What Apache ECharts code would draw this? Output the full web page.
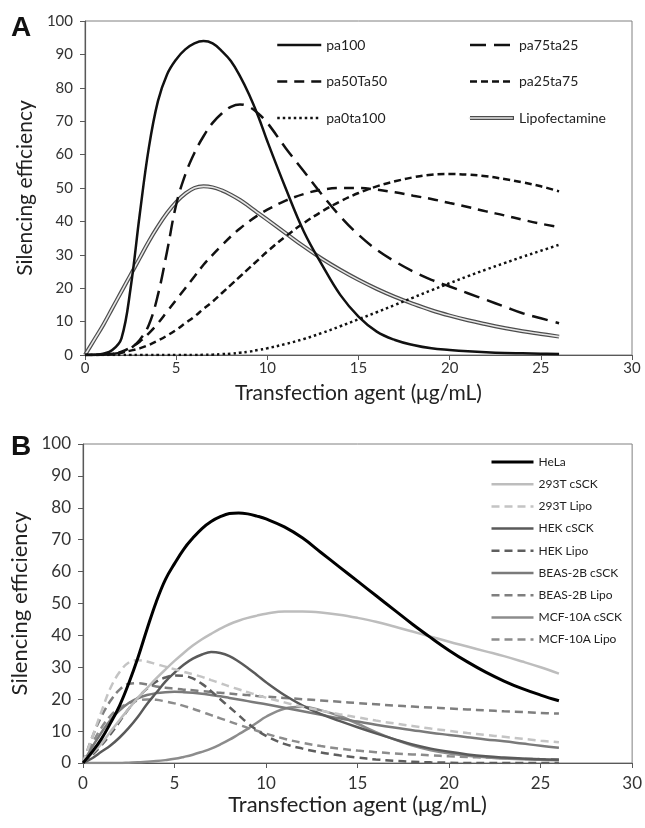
<!DOCTYPE html>
<html>
<head>
<meta charset="UTF-8">
<title>Silencing efficiency</title>
<script src="https://cdn.jsdelivr.net/npm/echarts@6/dist/echarts.min.js"></script>
<style>
  body { margin: 0; background: #fff; }
  #chart { width: 645px; height: 828px; }
</style>
</head>
<body>
<div id="chart"></div>
<script>
// x positions shared by every curve (µg/mL)
const xs = [0, 0.5, 1, 1.5, 2, 2.5, 3, 3.5, 4, 4.5, 5, 5.5, 6, 6.5, 7, 7.5, 8, 8.5, 9, 9.5, 10, 11, 12, 13, 14, 15, 16, 17, 18, 19, 20, 21, 22, 23, 24, 25, 26];

// panel A
const pa100 = [0, 0.1, 0.4, 1.5, 5, 20, 42, 62, 76, 84, 88.5, 91.5, 93.3, 94, 93.3, 91, 88, 83.5, 78, 71.5, 64, 50, 37, 27, 18, 11.5, 7, 4.5, 3, 2, 1.5, 1.1, 0.8, 0.6, 0.5, 0.4, 0.3];
const pa75ta25 = [0, 0, 0.1, 0.3, 0.8, 2, 4.5, 9, 18, 31, 45, 54, 60.5, 65.5, 69.5, 72.3, 74.3, 75, 74.3, 72.3, 69.5, 62, 55, 48, 41.5, 36, 31.5, 28, 25, 22.5, 20.5, 18.5, 16.5, 14.5, 12.5, 11, 9.5];
const pa50Ta50 = [0, 0, 0.1, 0.4, 1, 2.3, 4, 6.5, 9.5, 13, 16.5, 20, 23.5, 27, 30, 32.8, 35.5, 37.9, 40, 41.9, 43.5, 46.2, 48.2, 49.5, 50, 50, 49.5, 48.7, 47.7, 46.7, 45.5, 44.3, 43, 41.8, 40.5, 39.3, 38.3];
const pa25ta75 = [0, 0, 0.1, 0.3, 0.7, 1.3, 2, 3, 4.3, 5.8, 7.5, 9.5, 11.5, 13.8, 16, 18.5, 21, 23.5, 26, 28.5, 31, 35.5, 39.5, 43, 46, 48.5, 50.5, 52, 53.2, 54, 54.2, 54, 53.5, 52.7, 51.7, 50.5, 49];
const pa0ta100 = [0, 0, 0, 0, 0, 0, 0, 0, 0, 0, 0, 0, 0, 0.05, 0.1, 0.25, 0.4, 0.7, 1, 1.5, 2, 3.3, 4.8, 6.6, 8.6, 10.7, 12.8, 15, 17.2, 19.4, 21.5, 23.6, 25.6, 27.5, 29.4, 31.2, 33];
const lipofectamine = [0, 4.5, 9, 14, 19, 24, 29, 34, 38.5, 42.5, 45.8, 48.3, 50, 50.5, 50.2, 49.3, 48, 46.4, 44.5, 42.5, 40.5, 36.5, 32.5, 28.8, 25.5, 22.5, 19.8, 17.4, 15.3, 13.4, 11.8, 10.4, 9.2, 8.1, 7.1, 6.3, 5.5];

// panel B
const hela = [0, 3.5, 7.5, 12.5, 18, 25, 33, 42, 50.5, 57.5, 62.5, 67, 70.5, 73.5, 75.7, 77.2, 78.2, 78.4, 78.1, 77.4, 76.5, 74, 70.5, 66, 61.5, 57, 52.5, 48, 43.5, 39.3, 35.3, 31.7, 28.5, 25.7, 23.3, 21.3, 19.5];
const t293cSCK = [0, 3, 6, 9.8, 13.5, 17, 20.5, 23.5, 26.5, 29.3, 32, 34.5, 36.8, 38.8, 40.5, 42.1, 43.5, 44.6, 45.5, 46.2, 46.8, 47.5, 47.5, 47.2, 46.5, 45.5, 44.3, 42.8, 41.2, 39.6, 38, 36.5, 35, 33.5, 31.8, 30, 28];
const t293Lipo = [0, 8, 16, 23.5, 28.5, 31.5, 32.2, 31.8, 31, 30.2, 29.4, 28.6, 27.8, 27, 26, 25, 24, 23.1, 22.2, 21.3, 20.5, 19, 17.6, 16.4, 15.3, 14.3, 13.3, 12.4, 11.6, 10.8, 10.1, 9.4, 8.8, 8.2, 7.6, 7, 6.5];
const hekcSCK = [0, 1.5, 3.5, 5.5, 8, 11, 14.5, 18.5, 22, 25.5, 28.3, 30.8, 32.7, 34, 34.8, 34.5, 33.5, 31.8, 29.8, 27.6, 25.3, 21.3, 18, 15.3, 13.2, 11.2, 9.3, 7.5, 5.8, 4.5, 3.5, 2.7, 2.1, 1.7, 1.4, 1.2, 1];
const hekLipo = [0, 2.5, 5.5, 9, 13, 17, 20.5, 23.3, 25.5, 26.8, 27.4, 27.3, 26.5, 24.8, 22.5, 20, 17.5, 15, 12.5, 10.3, 8.5, 6, 4.5, 3.3, 2.4, 1.7, 1.1, 0.7, 0.4, 0.2, 0.1, 0, 0, 0, 0, 0, 0];
const beascSCK = [0, 5, 9.5, 13.5, 16.5, 18.8, 20.3, 21.3, 21.9, 22.2, 22.3, 22.2, 22, 21.7, 21.3, 20.9, 20.4, 19.9, 19.4, 18.9, 18.4, 17.3, 16.2, 15.1, 14, 13, 12, 11.1, 10.3, 9.5, 8.8, 8.1, 7.4, 6.8, 6.1, 5.4, 4.8];
const beasLipo = [0, 8, 14.5, 19.5, 23, 24.8, 25, 24.6, 24, 23.6, 23.3, 23, 22.8, 22.5, 22.3, 22, 21.8, 21.5, 21.3, 21, 20.8, 20.4, 20, 19.6, 19.2, 18.8, 18.4, 18, 17.7, 17.4, 17.1, 16.8, 16.5, 16.2, 16, 15.7, 15.5];
const mcfcSCK = [0, 0, 0, 0, 0, 0.1, 0.2, 0.4, 0.6, 0.9, 1.3, 1.9, 2.6, 3.5, 4.5, 5.8, 7.3, 9, 10.7, 12.6, 14.5, 17, 17.6, 16.5, 14.8, 12.3, 9.7, 7.4, 5.5, 4, 3, 2.3, 1.8, 1.4, 1.2, 1, 0.9];
const mcfLipo = [0, 6, 11, 14.8, 17.3, 18.8, 19.6, 19.9, 19.8, 19.3, 18.7, 17.9, 17, 16, 15, 14, 13, 12, 11, 10.1, 9.2, 7.6, 6.3, 5.3, 4.5, 3.9, 3.4, 3, 2.7, 2.4, 2.1, 1.9, 1.7, 1.5, 1.3, 1.2, 1.1];

const xTicks = { min: 0, max: 30, interval: 5 };
const yTicks = { min: 0, max: 100, interval: 10 };
const font = 'Lato, "Open Sans", sans-serif';

function curve(name, ys, grid, color, width, type, z) {
    return {
        name: name,
        type: 'line',
        xAxisIndex: grid,
        yAxisIndex: grid,
        data: xs.map((x, i) => [x, ys[i]]),
        symbol: 'none',
        smooth: 0.4,
        z: z || 2,
        itemStyle: { color: color },
        lineStyle: { color: color, width: width, type: type, cap: 'butt' }
    };
}

function axes(grid, labelSize, labelMargin, nameSize, xGap, yGap) {
    const common = {
        gridIndex: grid,
        type: 'value',
        axisLine: { show: true, lineStyle: { color: '#595959', width: 1.2 } },
        axisTick: { show: true, length: 5, lineStyle: { color: '#595959' } },
        splitLine: { show: false },
        nameLocation: 'middle',
        nameTextStyle: { fontSize: nameSize, color: '#222', fontFamily: font }
    };
    return {
        x: Object.assign({}, common, xTicks, {
            name: 'Transfection agent (μg/mL)',
            nameGap: xGap,
            axisLabel: { fontSize: labelSize, color: '#333', fontFamily: font, margin: labelMargin }
        }),
        y: Object.assign({}, common, yTicks, {
            name: 'Silencing efficiency',
            nameGap: yGap,
            axisLabel: { fontSize: labelSize, color: '#333', fontFamily: font, margin: 12 }
        })
    };
}

const axA = axes(0, 15, 6, 21, 28, 48);
const axB = axes(1, 17, 12, 22, 31, 49);

const chart = echarts.init(document.getElementById('chart'));

// legend icons: line only, no marker, same width as the series line
const legendA = {
    orient: 'vertical', padding: 0, itemWidth: 44, itemHeight: 14, itemGap: 22.5,
    itemStyle: { opacity: 0 },
    lineStyle: { width: 'inherit' },
    textStyle: { fontSize: 14, color: '#222', fontFamily: font }
};
const legendB = {
    orient: 'vertical', padding: 0, itemWidth: 42, itemHeight: 14, itemGap: 10.2,
    itemStyle: { opacity: 0 },
    lineStyle: { width: 'inherit' },
    textStyle: { fontSize: 12, color: '#222', fontFamily: font }
};

chart.setOption({
    animation: false,
    backgroundColor: '#fff',
    grid: [
        { left: 85, right: 13, top: 21, height: 334, show: true, borderColor: '#808080', borderWidth: 1 },
        { left: 83, right: 10, top: 444, height: 319, show: true, borderColor: '#808080', borderWidth: 1 }
    ],
    xAxis: [axA.x, axB.x],
    yAxis: [axA.y, axB.y],
    legend: [
        Object.assign({}, legendA, { left: 276, top: 38, data: ['pa100', 'pa50Ta50', 'pa0ta100'] }),
        Object.assign({}, legendA, { left: 468, top: 38, data: ['pa75ta25', 'pa25ta75', 'Lipofectamine'] }),
        Object.assign({}, legendA, { left: 468, top: 111, z: 10, data: ['Lipofectamine '], formatter: () => '' }),
        Object.assign({}, legendB, { left: 490, top: 456,
            data: ['HeLa', '293T cSCK', '293T Lipo', 'HEK cSCK', 'HEK Lipo', 'BEAS-2B cSCK', 'BEAS-2B Lipo', 'MCF-10A cSCK', 'MCF-10A Lipo'] })
    ],
    graphic: [
        { type: 'text', left: 11, top: 14, style: { text: 'A', fontSize: 28, fontWeight: 'bold', fontFamily: 'Liberation Sans, Arial', fill: '#111' } },
        { type: 'text', left: 11, top: 433, style: { text: 'B', fontSize: 28, fontWeight: 'bold', fontFamily: 'Liberation Sans, Arial', fill: '#111' } }
    ],
    series: [
        curve('Lipofectamine', lipofectamine, 0, '#4d4d4d', 4, 'solid', 2),
        curve('Lipofectamine ', lipofectamine, 0, '#e6e6e6', 1.6, 'solid', 3),
        curve('pa0ta100', pa0ta100, 0, '#111', 2.5, [2.5, 3], 4),
        curve('pa25ta75', pa25ta75, 0, '#111', 2.5, [7, 4], 4),
        curve('pa50Ta50', pa50Ta50, 0, '#111', 2.5, [10, 7], 4),
        curve('pa75ta25', pa75ta25, 0, '#111', 2.5, [16, 8], 4),
        curve('pa100', pa100, 0, '#111', 2.5, 'solid', 5),

        curve('MCF-10A Lipo', mcfLipo, 1, '#8c8c8c', 2.5, [8, 5], 2),
        curve('MCF-10A cSCK', mcfcSCK, 1, '#8c8c8c', 2.5, 'solid', 2),
        curve('BEAS-2B Lipo', beasLipo, 1, '#7f7f7f', 2.5, [8, 5], 2),
        curve('BEAS-2B cSCK', beascSCK, 1, '#7a7a7a', 2.5, 'solid', 2),
        curve('HEK Lipo', hekLipo, 1, '#5e5e5e', 2.5, [8, 5], 2),
        curve('HEK cSCK', hekcSCK, 1, '#5a5a5a', 2.5, 'solid', 2),
        curve('293T Lipo', t293Lipo, 1, '#c4c4c4', 2.5, [8, 5], 2),
        curve('293T cSCK', t293cSCK, 1, '#bdbdbd', 2.5, 'solid', 2),
        curve('HeLa', hela, 1, '#000', 3, 'solid', 3)
    ]
});
</script>
</body>
</html>
